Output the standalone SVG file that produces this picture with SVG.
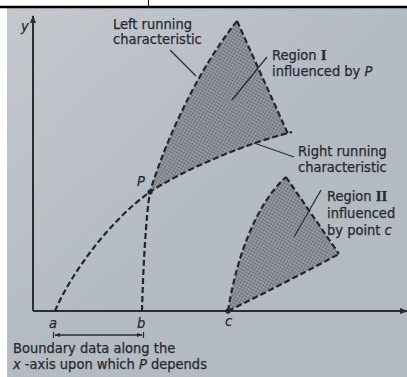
<svg xmlns="http://www.w3.org/2000/svg" width="407" height="377" viewBox="0 0 407 377">
<defs>
<linearGradient id="bg" x1="0" y1="0" x2="1" y2="1">
<stop offset="0" stop-color="#c4c8cd"/>
<stop offset="0.5" stop-color="#b5bbc3"/>
<stop offset="1" stop-color="#b3b9c1"/>
</linearGradient>
<pattern id="dots" width="3" height="3" patternUnits="userSpaceOnUse" patternTransform="rotate(30)">
<rect width="3" height="3" fill="#9a9fa6"/>
<circle cx="1.5" cy="1.5" r="1" fill="#5f646b"/>
</pattern>
<marker id="ah" markerWidth="8" markerHeight="8" refX="7" refY="4" orient="auto" markerUnits="userSpaceOnUse">
<path d="M0,1 L8,4 L0,7 Z" fill="#2a2d31"/>
</marker>
<marker id="dimA" markerWidth="6" markerHeight="6" refX="5" refY="3" orient="auto-start-reverse" markerUnits="userSpaceOnUse">
<path d="M0,1 L6,3 L0,5 Z" fill="#2a2d31"/>
</marker>
</defs>
<style>
.t{font-family:"DejaVu Sans Condensed","DejaVu Sans","Liberation Sans",sans-serif;font-size:14.5px;fill:#262a2f;stroke:#262a2f;stroke-width:0.25}
.it{font-style:italic}
.rn{font-family:"Liberation Serif",serif;font-weight:bold;font-size:15px}
.dash{fill:none;stroke:#222529;stroke-width:2.2;stroke-dasharray:6 3}
.lead{fill:none;stroke:#2c2f34;stroke-width:1.3}
.ax{fill:none;stroke:#2a2d31;stroke-width:2}
</style>
<rect width="407" height="377" fill="#ffffff"/>
<rect x="7" y="8" width="400" height="369" fill="url(#bg)"/>
<line x1="0" y1="7" x2="407" y2="7" stroke="#000" stroke-width="2.5"/>
<line x1="148.5" y1="0" x2="148.5" y2="7" stroke="#000" stroke-width="1"/>

<g id="regionI">
<path d="M150,192 C160,158 190,80 237,21 L288,134 C240,146 180,172 150,192 Z" fill="url(#dots)"/>
<path class="dash" d="M237,21 L288,134"/>
</g>
<g id="regionII">
<path d="M228,311 C236,260 255,205 286,177 L339,254 Q285,283 228,311 Z" fill="url(#dots)"/>
<path class="dash" d="M228,311 C236,260 255,205 286,177"/>
<path class="dash" d="M286,177 L339,254"/>
<path class="dash" d="M228,311 Q285,283 339,254"/>
</g>

<g id="axes">
<line class="ax" x1="33" y1="311" x2="33" y2="16" marker-end="url(#ah)"/>
<line class="ax" x1="33" y1="311" x2="407" y2="311" marker-end="url(#ah)"/>
<text class="t it" x="21" y="31">y</text>
</g>

<g id="connectors">
<path id="left-char" class="dash" d="M142,311 C143,270 146,215 150,192 C160,158 190,80 237,21"/>
<path id="right-char" class="dash" d="M55,311 C70,275 110,220 150,192 C180,172 240,145 292,132"/>
<line class="lead" x1="170" y1="50" x2="196" y2="76"/>
<line class="lead" x1="267" y1="57" x2="232" y2="100"/>
<line class="lead" x1="254" y1="143" x2="294" y2="157"/>
<line class="lead" x1="321" y1="190" x2="294" y2="237"/>
<line x1="55" y1="335" x2="142" y2="335" stroke="#2a2d31" stroke-width="1.3" marker-start="url(#dimA)" marker-end="url(#dimA)"/>
<line x1="53.5" y1="332" x2="53.5" y2="338" stroke="#2a2d31" stroke-width="1.2"/>
<line x1="143.5" y1="332" x2="143.5" y2="338" stroke="#2a2d31" stroke-width="1.2"/>
</g>

<g id="P">
<circle cx="150" cy="192" r="2.6" fill="#222529"/>
<text class="t it" x="137" y="186">P</text>
</g>
<g id="c">
<circle cx="228" cy="311" r="2.6" fill="#222529"/>
<text class="t it" x="225" y="326">c</text>
</g>
<g id="a"><text class="t it" x="49" y="328">a</text></g>
<g id="b"><text class="t it" x="137" y="328">b</text></g>

<g id="label-left">
<text class="t" x="113" y="29">Left running</text>
<text class="t" x="113" y="44">characteristic</text>
</g>
<g id="label-regionI">
<text class="t" x="272" y="60">Region <tspan class="rn">I</tspan></text>
<text class="t" x="272" y="76">influenced by <tspan class="it">P</tspan></text>
</g>
<g id="label-right">
<text class="t" x="298" y="156">Right running</text>
<text class="t" x="298" y="172">characteristic</text>
</g>
<g id="label-regionII">
<text class="t" x="327" y="201">Region <tspan class="rn">II</tspan></text>
<text class="t" x="327" y="218">influenced</text>
<text class="t" x="327" y="235">by point <tspan class="it">c</tspan></text>
</g>
<g id="label-boundary">
<text class="t" x="13" y="353">Boundary data along the</text>
<text class="t" x="13" y="369"><tspan class="it">x</tspan> -axis upon which <tspan class="it">P</tspan> depends</text>
</g>
</svg>
